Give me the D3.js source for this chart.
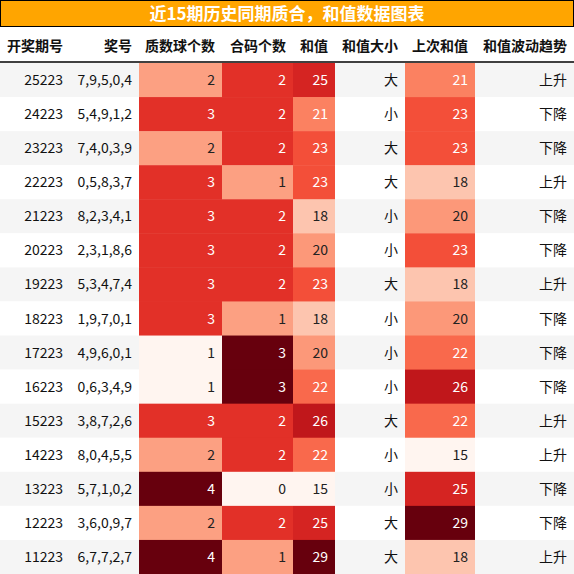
<!DOCTYPE html>
<html><head><meta charset="utf-8">
<script src="https://cdn.jsdelivr.net/npm/d3@7"></script>
<style>body{margin:0;background:#fff}</style>
</head><body><div id="chart"></div>
<script>
var title = "近15期历史同期质合，和值数据图表";
var headers = ["开奖期号", "奖号", "质数球个数", "合码个数", "和值", "和值大小", "上次和值", "和值波动趋势"];
var periods = ["25223","24223","23223","22223","21223","20223","19223","18223","17223","16223","15223","14223","13223","12223","11223"];
var numbers = ["7,9,5,0,4","5,4,9,1,2","7,4,0,3,9","0,5,8,3,7","8,2,3,4,1","2,3,1,8,6","5,3,4,7,4","1,9,7,0,1","4,9,6,0,1","0,6,3,4,9","3,8,7,2,6","8,0,4,5,5","5,7,1,0,2","3,6,0,9,7","6,7,7,2,7"];
var primeCount = [2,3,2,3,3,3,3,3,1,1,3,2,4,2,4];
var compCount = [2,2,2,1,2,2,2,1,3,3,2,2,0,2,1];
var sums = [25,21,23,23,18,20,23,18,20,22,26,22,15,25,29];
var sizes = ["大","小","大","大","小","小","大","小","小","小","大","小","小","大","大"];
var prevSums = [21,23,23,18,20,23,18,20,22,26,22,15,25,29,18];
var trends = ["上升","下降","下降","上升","下降","下降","上升","下降","下降","下降","上升","上升","下降","下降","上升"];

var W = 574, H = 574;
var colEdges = [0, 70, 139, 222, 293, 335, 405, 475, 574];
var columns = [periods, numbers, primeCount, compCount, sums, sizes, prevSums, trends];
var heat = {2: true, 3: true, 4: true, 6: true};

var svg = d3.select("#chart").append("svg").attr("width", W).attr("height", H)
    .style("font-family", "'Noto Sans CJK SC', 'Noto Sans', sans-serif");

// title bar
svg.append("rect").attr("x", 0.5).attr("y", 0.5).attr("width", W - 1).attr("height", 26)
    .attr("fill", "#ffa500").attr("stroke", "#000");
svg.append("text").attr("x", W / 2).attr("y", 20).attr("text-anchor", "middle")
    .attr("fill", "#fff").attr("font-weight", "bold").attr("font-size", 17).text(title);

// header
headers.forEach(function(h, i) {
    svg.append("text").attr("x", colEdges[i + 1] - 7).attr("y", 51)
        .attr("text-anchor", "end").attr("font-weight", "bold").attr("font-size", 14)
        .attr("fill", "#111").text(h);
});
svg.append("line").attr("x1", 0).attr("x2", W).attr("y1", 62).attr("y2", 62)
    .attr("stroke", "#000").attr("stroke-width", 1.5);

var y = d3.scaleBand().domain(d3.range(periods.length)).range([63, H]);

// row stripes
svg.selectAll(".stripe").data(d3.range(periods.length)).enter().append("rect")
    .attr("x", 0).attr("y", function(d) { return y(d); })
    .attr("width", W).attr("height", y.bandwidth())
    .attr("fill", function(d) { return d % 2 == 0 ? "#f5f5f5" : "#fff"; });

columns.forEach(function(col, ci) {
    var x0 = colEdges[ci], x1 = colEdges[ci + 1];
    var color = null;
    if (heat[ci]) {
        var ext = d3.extent(col);
        color = d3.scaleSequential(d3.interpolateReds).domain(ext);
        svg.append("g").selectAll("rect").data(col).enter().append("rect")
            .attr("x", x0).attr("y", function(d, i) { return y(i); })
            .attr("width", x1 - x0).attr("height", y.bandwidth() + 0.5)
            .attr("fill", function(d) { return color(d); });
    }
    svg.append("g").selectAll("text").data(col).enter().append("text")
        .attr("x", x1 - 7).attr("y", function(d, i) { return y(i) + y.bandwidth() / 2 + 5; })
        .attr("text-anchor", "end").attr("font-size", 14)
        .attr("fill", function(d) {
            if (!color) return "#111";
            var t = (d - color.domain()[0]) / (color.domain()[1] - color.domain()[0]);
            return t > 0.4 ? "#fff" : "#222";
        })
        .text(function(d) { return d; });
});
</script>
</body></html>
